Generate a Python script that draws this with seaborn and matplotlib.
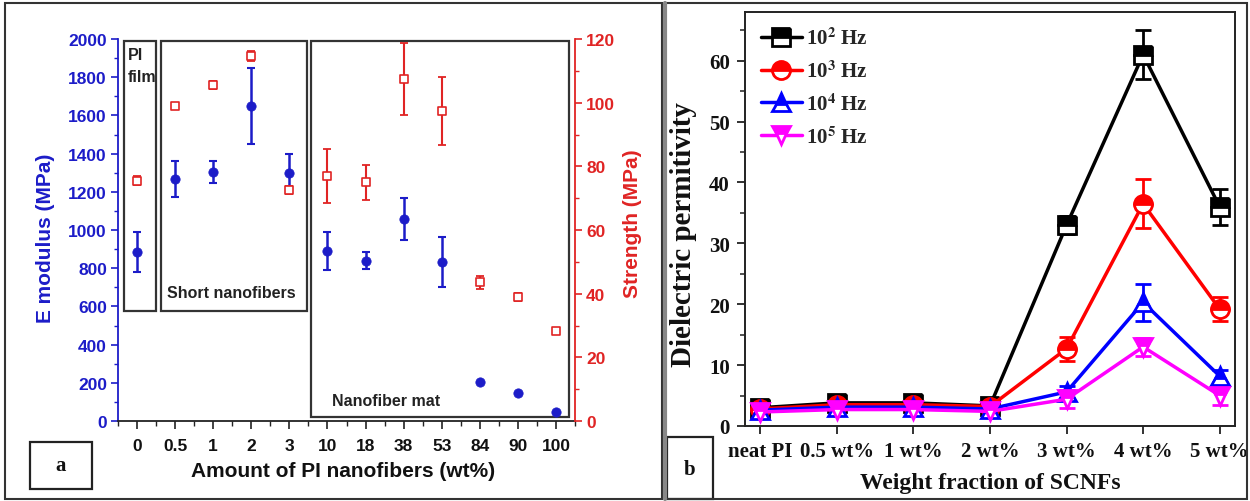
import numpy as np
import pandas as pd
import matplotlib
matplotlib.use("Agg")
import matplotlib.pyplot as plt
import seaborn as sns
from matplotlib.patches import Rectangle
from matplotlib.lines import Line2D
from matplotlib.ticker import MultipleLocator

# ---------------- data: panel a ----------------
amount_labels = ["0", "0.5", "1", "2", "3", "10", "18", "38", "53", "84", "90", "100"]
modulus = [885, 1267, 1303, 1649, 1298, 890, 840, 1058, 832, 204, 147, 47]
modulus_err = [105, 92, 58, 199, 100, 100, 45, 108, 133, 0, 0, 0]
strength = [75.5, 99.0, 105.6, 114.7, 72.6, 77.0, 75.0, 107.4, 97.4, 43.6, 39.0, 28.3]
strength_err = [1.5, 0.8, 1.2, 1.6, 1.3, 8.4, 5.5, 11.2, 10.6, 2.0, 1.3, 0.8]

# ---------------- data: panel b ----------------
fraction_labels = ["neat PI", "0.5 wt%", "1 wt%", "2 wt%", "3 wt%", "4 wt%", "5 wt%"]
freq_labels = ["10^2 Hz", "10^3 Hz", "10^4 Hz", "10^5 Hz"]
freq_legend = [r"10$^{\mathbf{2}}$ Hz", r"10$^{\mathbf{3}}$ Hz",
               r"10$^{\mathbf{4}}$ Hz", r"10$^{\mathbf{5}}$ Hz"]
eps_1e2 = [3.0, 3.8, 3.8, 3.3, 33.0, 61.0, 36.0]
eps_1e2_err = [0.6, 0.6, 0.6, 0.6, 1.5, 4.0, 3.0]
eps_1e3 = [2.8, 3.5, 3.5, 3.2, 12.7, 36.5, 19.2]
eps_1e3_err = [0.5, 0.5, 0.5, 0.5, 2.0, 4.0, 2.0]
eps_1e4 = [2.6, 3.1, 3.1, 2.8, 5.6, 20.3, 8.2]
eps_1e4_err = [0.7, 0.7, 0.7, 0.7, 1.0, 3.0, 1.0]
eps_1e5 = [2.3, 2.7, 2.7, 2.4, 4.4, 13.0, 5.0]
eps_1e5_err = [0.9, 0.9, 0.9, 0.9, 1.5, 1.5, 1.5]

BLUE = "#1c1cc8"
RED = "#e02424"
series_colors = ["#000000", "#ff0000", "#0000ff", "#ff00ff"]
series_markers = ["s", "o", "^", "v"]

sns.set_theme(style="ticks")
plt.rcParams["font.family"] = ["Liberation Sans", "DejaVu Sans"]
plt.rcParams["mathtext.fontset"] = "stix"

W, H = 1250, 502
fig = plt.figure(figsize=(12.5, 5.02), dpi=100)
fig.patch.set_facecolor("white")


def fx(px):
    return px / W


def fy(py):
    return 1 - py / H


# ======================= panel a =======================
axL = fig.add_axes([fx(118), fy(422), 457 / W, 382 / H])
axS = axL.twinx()
xpos = np.arange(len(amount_labels))
dfL = pd.DataFrame({"pos": xpos, "modulus": modulus, "strength": strength})

axL.errorbar(xpos, modulus, yerr=modulus_err, fmt="none", ecolor=BLUE,
             elinewidth=1.8, capsize=3, capthick=1.5, zorder=2)
sns.scatterplot(data=dfL, x="pos", y="modulus", ax=axL, color=BLUE,
                edgecolor=BLUE, marker="o", s=45, zorder=3, legend=False)
axS.errorbar(xpos, strength, yerr=strength_err, fmt="none", ecolor=RED,
             elinewidth=1.5, capsize=3, capthick=1.3, zorder=2)
sns.scatterplot(data=dfL, x="pos", y="strength", ax=axS, color="white",
                edgecolor=RED, linewidth=1.2, marker="s", s=30, zorder=3,
                legend=False)

axL.set_xlim(-0.5, len(amount_labels) - 0.5)
axL.set_ylim(0, 2000)
axS.set_ylim(0, 120)

tick_font = dict(fontsize=12.5, fontweight="bold", family="Liberation Sans")
axL.set_xticks(xpos, labels=amount_labels, color="#111111", **tick_font)
axL.xaxis.set_minor_locator(MultipleLocator(0.5))
yt = np.arange(0, 2001, 200)
axL.set_yticks(yt, labels=[str(v) for v in yt], color=BLUE, **tick_font)
axL.yaxis.set_minor_locator(MultipleLocator(100))
st = np.arange(0, 121, 20)
axS.set_yticks(st, labels=[str(v) for v in st], color=RED, **tick_font)
axS.yaxis.set_minor_locator(MultipleLocator(10))

axL.tick_params(axis="x", which="major", direction="out", length=6, width=1.2,
                color="#222222", pad=6)
axL.tick_params(axis="x", which="minor", direction="out", length=3.5, width=1.0,
                color="#222222")
axL.tick_params(axis="y", which="major", direction="out", length=5, width=1.2,
                color=BLUE, pad=3)
axL.tick_params(axis="y", which="minor", direction="out", length=3, width=1.0,
                color=BLUE)
axS.tick_params(axis="y", which="major", direction="out", length=5, width=1.2,
                color=RED, pad=3)
axS.tick_params(axis="y", which="minor", direction="out", length=3, width=1.0,
                color=RED)

for ax in (axL, axS):
    ax.spines["top"].set_visible(False)
axL.spines["right"].set_visible(False)
axS.spines["left"].set_visible(False)
axS.spines["bottom"].set_visible(False)
axL.spines["left"].set_color(BLUE)
axL.spines["left"].set_linewidth(1.3)
axS.spines["right"].set_color(RED)
axS.spines["right"].set_linewidth(1.3)
axL.spines["bottom"].set_color("#222222")
axL.spines["bottom"].set_linewidth(1.3)

lab_font = dict(fontsize=15, fontweight="bold", family="Liberation Sans")
axL.set_ylabel("E modulus (MPa)", color=BLUE, **lab_font)
axL.yaxis.set_label_coords(-0.138, 0.48)
axS.set_ylabel("Strength (MPa)", color=RED, **lab_font)
axS.yaxis.set_label_coords(1.105, 0.52)
axL.set_xlabel("Amount of PI nanofibers (wt%)", color="#111111", **lab_font)
axL.xaxis.set_label_coords(0.492, -0.105)

# group boxes (data coords)
for (x0, y0, x1, y1) in [(-0.34, 576, 0.5, 1990), (0.63, 576, 4.47, 1990),
                         (4.58, 21, 11.34, 1990)]:
    axL.add_patch(Rectangle((x0, y0), x1 - x0, y1 - y0, fill=False,
                            ec="#333333", lw=1.6, clip_on=False, zorder=1))

box_font = dict(fontsize=11.5, fontweight="bold", family="Liberation Sans",
                color="#222222", va="center", ha="left")
fig.text(fx(128), fy(56), "PI", **box_font)
fig.text(fx(128), fy(78), "film", **box_font)
fig.text(fx(167), fy(294), "Short nanofibers", **box_font)
fig.text(fx(332), fy(402), "Nanofiber mat", **box_font)

# "a" box and panel border
fig.add_artist(Rectangle((fx(30), fy(490)), 62 / W, 47 / H, fill=False,
                         ec="#222222", lw=1.6, transform=fig.transFigure))
fig.text(fx(61), fy(466), "a", fontsize=15, fontweight="bold",
         family="Liberation Serif", ha="center", va="center", color="#111111")
fig.add_artist(Rectangle((fx(5), fy(500)), 657 / W, 496 / H, fill=False,
                         ec="#333333", lw=1.5, transform=fig.transFigure))

# ======================= panel b =======================
axB = fig.add_axes([fx(745), fy(427), 490 / W, 414 / H])
xb = np.arange(len(fraction_labels))
series_vals = [eps_1e2, eps_1e3, eps_1e4, eps_1e5]
series_errs = [eps_1e2_err, eps_1e3_err, eps_1e4_err, eps_1e5_err]
dfB = pd.DataFrame({
    "pos": np.tile(xb, len(freq_labels)),
    "eps": np.concatenate(series_vals),
    "freq": np.repeat(freq_labels, len(xb)),
})

for vals, errs, c in zip(series_vals, series_errs, series_colors):
    axB.errorbar(xb, vals, yerr=errs, fmt="none", ecolor=c, elinewidth=2,
                 capsize=6, capthick=2, zorder=1.5)
n_before = len(axB.lines)
sns.lineplot(data=dfB, x="pos", y="eps", hue="freq", style="freq",
             hue_order=freq_labels, style_order=freq_labels,
             palette=series_colors, markers=series_markers, dashes=False,
             markersize=13, linewidth=2.5, legend=False, sort=False,
             errorbar=None, ax=axB)
series_lines = axB.lines[n_before:]
for ln in series_lines:
    c = ln.get_color()
    ln.set_markeredgecolor(c)
    ln.set_markerfacecolor(c)
    ln.set_fillstyle("top")
    ln.set_markerfacecoloralt("white")
    ln.set_markeredgewidth(2)
    ln.set_zorder(3)

axB.set_xlim(-0.2, 6.2)
axB.set_ylim(0, 68)
serif_tick = dict(fontsize=15, fontweight="bold", family="Liberation Serif",
                  color="#111111")
axB.set_xticks(xb, labels=fraction_labels, **serif_tick)
yb = np.arange(0, 61, 10)
axB.set_yticks(yb, labels=[str(v) for v in yb], **serif_tick)
axB.yaxis.set_minor_locator(MultipleLocator(5))
axB.tick_params(axis="both", which="major", direction="out", length=6,
                width=1.3, color="#222222", pad=5)
axB.tick_params(axis="y", which="minor", direction="out", length=3.5,
                width=1.1, color="#222222")
for s in axB.spines.values():
    s.set_color("#222222")
    s.set_linewidth(1.4)

axB.set_ylabel("Dielectric permitivity", fontsize=21, fontweight="bold",
               family="Liberation Serif", color="#111111")
axB.yaxis.set_label_coords(-0.098, 0.464)
axB.set_xlabel("Weight fraction of SCNFs", fontsize=17, fontweight="bold",
               family="Liberation Serif", color="#111111")
axB.xaxis.set_label_coords(0.5, -0.111)

axB.legend(handles=list(series_lines), labels=freq_legend, loc="upper left",
           frameon=False, prop=dict(size=15, weight="bold",
                                    family="Liberation Serif"),
           handlelength=2.0, labelspacing=0.55, borderaxespad=0.4,
           handletextpad=0.2, borderpad=0.35)

# "b" box and panel border
fig.add_artist(Rectangle((fx(667), fy(500)), 46 / W, 62 / H, fill=False,
                         ec="#222222", lw=1.6, transform=fig.transFigure))
fig.text(fx(690), fy(470), "b", fontsize=15, fontweight="bold",
         family="Liberation Serif", ha="center", va="center", color="#111111")
fig.add_artist(Rectangle((fx(665), fy(500)), 582 / W, 496 / H, fill=False,
                         ec="#333333", lw=1.5, transform=fig.transFigure))
fig.add_artist(Line2D([fx(665), fx(665)], [fy(500), fy(4)], color="#888888",
                      lw=3, transform=fig.transFigure))

fig.savefig("out.png", dpi=100, facecolor="white")
